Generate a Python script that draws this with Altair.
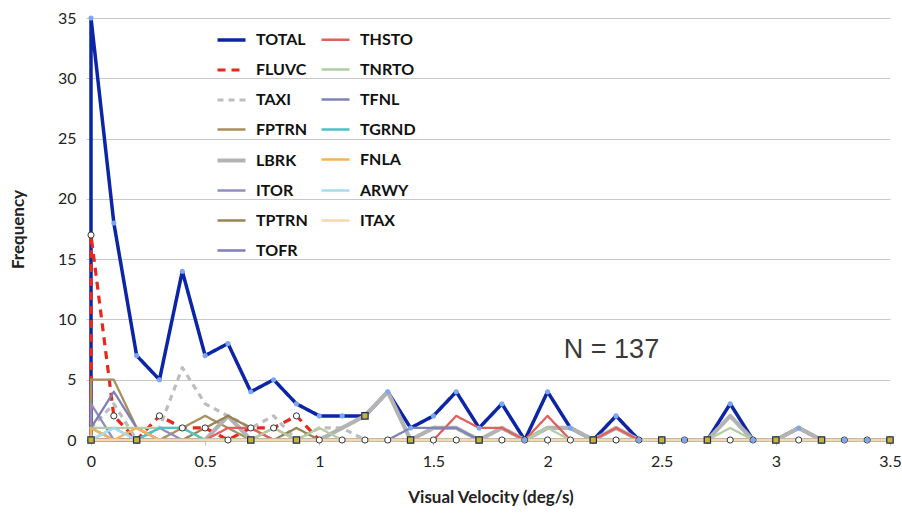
import altair as alt
import pandas as pd

# ---------------- data ----------------
x_vals = [0.0, 0.1, 0.2, 0.3, 0.4, 0.5, 0.6, 0.7, 0.8, 0.9,
          1.0, 1.1, 1.2, 1.3, 1.4, 1.5, 1.6, 1.7, 1.8, 1.9,
          2.0, 2.1, 2.2, 2.3, 2.4, 2.5, 2.6, 2.7, 2.8, 2.9,
          3.0, 3.1, 3.2, 3.3, 3.4, 3.5]

TOTAL = [35, 18, 7, 5, 14, 7, 8, 4, 5, 3, 2, 2, 2, 4, 1, 2, 4, 1, 3, 0,
         4, 1, 0, 2, 0, 0, 0, 0, 3, 0, 0, 1, 0, 0, 0, 0]
FLUVC = [17, 2, 0, 2, 1, 1, 0, 1, 1, 2, 0, 0, 0, 0, 0, 0, 0, 0, 0, 0,
         0, 0, 0, 0, 0, 0, 0, 0, 0, 0, 0, 0, 0, 0, 0, 0]
TAXI = [1, 3, 0, 1, 6, 3, 2, 1, 2, 0, 1, 1, 0, 0, 0, 0, 0, 0, 0, 0,
        0, 0, 0, 0, 0, 0, 0, 0, 0, 0, 0, 0, 0, 0, 0, 0]
FPTRN = [5, 5, 1, 0, 1, 2, 1, 0, 1, 0, 0, 0, 0, 0, 0, 0, 0, 0, 0, 0,
         0, 0, 0, 0, 0, 0, 0, 0, 0, 0, 0, 0, 0, 0, 0, 0]
LBRK = [0, 0, 0, 0, 0, 0, 2, 0, 0, 0, 0, 1, 2, 4, 0, 1, 1, 0, 1, 0,
        1, 1, 0, 1, 0, 0, 0, 0, 2, 0, 0, 1, 0, 0, 0, 0]
ITOR = [3, 0, 0, 1, 0, 0, 0, 0, 0, 0, 0, 0, 0, 0, 0, 0, 0, 0, 0, 0,
        0, 0, 0, 0, 0, 0, 0, 0, 0, 0, 0, 0, 0, 0, 0, 0]
TPTRN = [0, 0, 0, 0, 0, 1, 2, 1, 0, 1, 0, 0, 0, 0, 0, 0, 0, 0, 0, 0,
         0, 0, 0, 0, 0, 0, 0, 0, 0, 0, 0, 0, 0, 0, 0, 0]
TOFR = [1, 4, 1, 0, 0, 0, 0, 0, 0, 0, 0, 0, 0, 0, 0, 0, 0, 0, 0, 0,
        0, 0, 0, 0, 0, 0, 0, 0, 0, 0, 0, 0, 0, 0, 0, 0]
THSTO = [0, 0, 0, 0, 0, 0, 1, 1, 0, 0, 0, 0, 0, 0, 0, 0, 2, 1, 1, 0,
         2, 0, 0, 1, 0, 0, 0, 0, 0, 0, 0, 0, 0, 0, 0, 0]
TNRTO = [1, 1, 1, 1, 1, 0, 0, 0, 1, 0, 1, 0, 0, 0, 0, 0, 0, 0, 0, 0,
         1, 0, 0, 0, 0, 0, 0, 0, 1, 0, 0, 0, 0, 0, 0, 0]
TFNL = [1, 0, 0, 0, 0, 0, 0, 0, 0, 0, 0, 0, 0, 0, 1, 1, 1, 0, 0, 0,
        0, 0, 0, 0, 0, 0, 0, 0, 0, 0, 0, 0, 0, 0, 0, 0]
TGRND = [0, 1, 0, 1, 1, 0, 0, 0, 0, 0, 0, 0, 0, 0, 0, 0, 0, 0, 0, 0,
         0, 0, 0, 0, 0, 0, 0, 0, 0, 0, 0, 0, 0, 0, 0, 0]
FNLA = [1, 0, 1, 0, 0, 0, 0, 0, 0, 0, 0, 0, 0, 0, 0, 0, 0, 0, 0, 0,
        0, 0, 0, 0, 0, 0, 0, 0, 0, 0, 0, 0, 0, 0, 0, 0]
ARWY = [0, 1, 0, 0, 0, 0, 0, 0, 0, 0, 0, 0, 0, 0, 0, 0, 0, 0, 0, 0,
        0, 0, 0, 0, 0, 0, 0, 0, 0, 0, 0, 0, 0, 0, 0, 0]
ITAX = [0, 0, 0, 0, 0, 0, 0, 0, 0, 0, 0, 0, 0, 0, 0, 0, 0, 0, 0, 0,
        0, 0, 0, 0, 0, 0, 0, 0, 0, 0, 0, 0, 0, 0, 0, 0]

series_values = {
    "TOTAL": TOTAL, "FLUVC": FLUVC, "TAXI": TAXI, "FPTRN": FPTRN,
    "LBRK": LBRK, "ITOR": ITOR, "TPTRN": TPTRN, "TOFR": TOFR,
    "THSTO": THSTO, "TNRTO": TNRTO, "TFNL": TFNL, "TGRND": TGRND,
    "FNLA": FNLA, "ARWY": ARWY, "ITAX": ITAX,
}
draw_order = list(series_values.keys())
legend_order = draw_order  # legend fills column by column

series_colors = {
    "TOTAL": "#0c25a6", "FLUVC": "#e8271d", "TAXI": "#bdbdbd", "FPTRN": "#a88f5e",
    "LBRK": "#b3b3b3", "ITOR": "#8f8fbf", "TPTRN": "#9a8257", "TOFR": "#7e7fb5",
    "THSTO": "#e0605e", "TNRTO": "#b3cca3", "TFNL": "#7d84b8", "TGRND": "#4cc4c4",
    "FNLA": "#f2b45a", "ARWY": "#a9daf2", "ITAX": "#f8d6ae",
}
series_dash = {"FLUVC": [8, 6], "TAXI": [6, 5]}
series_width = {"TOTAL": 3.5, "FLUVC": 3.2, "TAXI": 3.2, "LBRK": 4.2}

# extra square markers seen along the chart
square_x = [0.0, 0.2, 0.7, 0.9, 1.2, 1.4, 1.7, 2.2, 2.5, 2.7, 3.0, 3.2, 3.5]
square_y = [0, 0, 0, 0, 2, 0, 0, 0, 0, 0, 0, 0, 0]

note_x = [2.28]
note_y = [7.5]
note_text = ["N = 137"]

x_ticks = [0, 0.5, 1, 1.5, 2, 2.5, 3, 3.5]
y_ticks = [0, 5, 10, 15, 20, 25, 30, 35]

# ---------------- tables ----------------
rows = []
for s in draw_order:
    vals = series_values[s]
    rows.append({"series": s, "x": 0.0, "y": 0, "seq": 0})
    for i, (xv, yv) in enumerate(zip(x_vals, vals)):
        rows.append({"series": s, "x": xv, "y": yv, "seq": i + 1})
df = pd.DataFrame(rows)

df_total = pd.DataFrame({"x": x_vals, "y": TOTAL})
df_fluvc = pd.DataFrame({"x": x_vals, "y": FLUVC})
df_sq = pd.DataFrame({"x": square_x, "y": square_y})
df_note = pd.DataFrame({"x": note_x, "y": note_y, "t": note_text})

FONT = "Lato"

x_enc = alt.X("x:Q", scale=alt.Scale(domain=[0, 3.5], nice=False, zero=False),
              axis=alt.Axis(values=x_ticks, format="~g", title="Visual Velocity (deg/s)",
                            grid=False, domain=True, domainColor="#bfbfbf",
                            ticks=True, tickColor="#bfbfbf", tickSize=5,
                            labelPadding=8, labelFontSize=16, labelColor="#222",
                            labelFont=FONT, titleFont=FONT, titleFontSize=17,
                            titleFontWeight="bold", titleColor="#222",
                            titleX=399.5, titleY=57, titleBaseline="middle",
                            labelFlush=False))
y_enc = alt.Y("y:Q", scale=alt.Scale(domain=[0, 35], nice=False),
              axis=alt.Axis(values=y_ticks, title="Frequency", grid=True,
                            gridColor="#c9c9c9", gridWidth=1, domain=False,
                            ticks=True, tickColor="#c9c9c9", tickSize=5,
                            labelPadding=10, labelFontSize=16, labelColor="#222",
                            labelFont=FONT, titleFont=FONT, titleFontSize=17,
                            titleFontWeight="bold", titleColor="#222",
                            titleX=-73, titleY=211, titleAngle=-90,
                            titleAlign="center", titleBaseline="middle"))

leg = alt.Legend(title=None, orient="none", legendX=124, legendY=6, columns=2,
                 symbolType="stroke", symbolSize=784, labelFont=FONT,
                 labelFontSize=16, labelFontWeight="bold", labelColor="#111",
                 rowPadding=6, columnPadding=8, labelOffset=8,
                 symbolStrokeWidth=3)

lines = alt.Chart(df).mark_line(strokeJoin="round").encode(
    x=x_enc,
    y=y_enc,
    color=alt.Color("series:N",
                    scale=alt.Scale(domain=legend_order,
                                    range=[series_colors[s] for s in legend_order]),
                    legend=leg),
    strokeDash=alt.StrokeDash("series:N",
                              scale=alt.Scale(domain=legend_order,
                                              range=[series_dash.get(s, [1, 0]) for s in legend_order]),
                              legend=leg),
    strokeWidth=alt.StrokeWidth("series:N",
                                scale=alt.Scale(type="ordinal", domain=legend_order,
                                                range=[series_width.get(s, 2.3) for s in legend_order]),
                                legend=leg),
    order=alt.Order("seq:Q"),
)

fluvc_pts = alt.Chart(df_fluvc).mark_point(shape="circle", filled=True, size=38,
                                           fill="white", stroke="#333333",
                                           strokeWidth=1, opacity=1).encode(
    x="x:Q", y="y:Q")

total_pts = alt.Chart(df_total).mark_point(shape="circle", filled=True, size=26,
                                           color="#7ba7f0", opacity=1).encode(
    x="x:Q", y="y:Q")

sq_pts = alt.Chart(df_sq).mark_point(shape="square", filled=True, size=40,
                                     fill="#c9b23a", stroke="#1d2f4f",
                                     strokeWidth=1.2, opacity=1).encode(
    x="x:Q", y="y:Q")

note = alt.Chart(df_note).mark_text(font="Liberation Sans", fontSize=27,
                                    color="#3a3a3a", align="center",
                                    baseline="middle").encode(
    x="x:Q", y="y:Q", text="t:N")

chart = alt.layer(lines, fluvc_pts, total_pts, sq_pts, note).properties(
    width=799, height=422,
    autosize=alt.AutoSizeParams(type="none"),
    padding={"left": 91, "top": 18, "right": 12, "bottom": 76},
    background="white",
).configure_view(stroke=None)

chart.save("out.html", embed_options={"renderer": "svg", "actions": False})
